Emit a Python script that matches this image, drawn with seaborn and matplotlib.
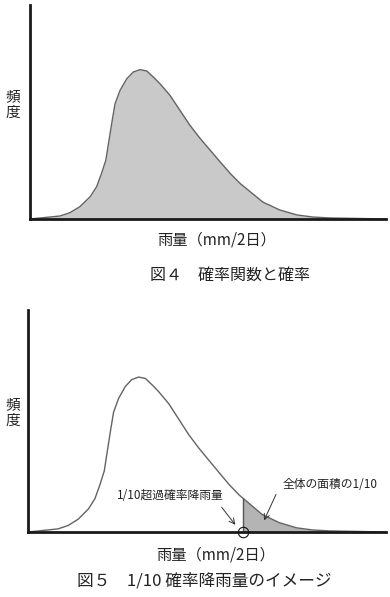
import numpy as np
import pandas as pd
import matplotlib
matplotlib.use("Agg")
import matplotlib.pyplot as plt
import seaborn as sns

# ---- data (x: rainfall 0-100, y: relative frequency, peak = 100)
rain = [0, 4.2, 8.4, 11.2, 14.0, 16.9, 18.7, 20.1, 21.3, 22.2, 23.1, 23.9, 25.3,
        27.2, 29.0, 30.9, 32.8, 35.1, 36.5, 39.3, 42.1, 44.9, 47.8, 50.6, 53.4,
        56.2, 59.0, 61.2, 65.4, 70.2, 75.0, 79.5, 84.3, 93.5, 100]
freq = [0, 1.0, 2.0, 4.2, 8.2, 14.9, 21.5, 30.5, 39.3, 52.7, 66.0, 77.1, 86.0,
        93.8, 98.2, 99.8, 98.9, 93.8, 90.4, 82.7, 72.7, 62.7, 53.8, 46.0, 38.2,
        30.5, 23.8, 19.5, 11.3, 6.0, 2.7, 1.3, 0.7, 0.3, 0]
threshold = 60.0  # 1/10 exceedance rainfall

ylabel = "頻\n度"
xlabel = "雨量（mm/2日）"
caption4 = "図４　確率関数と確率"
caption5 = "図５　1/10 確率降雨量のイメージ"
label_threshold = "1/10超過確率降雨量"
label_area = "全体の面積の1/10"

df = pd.DataFrame({"rain": rain, "freq": freq})

sns.set_style("white")
plt.rcParams["font.family"] = ["Noto Sans CJK JP", "DejaVu Sans"]

W, H = 390, 597
fig = plt.figure(figsize=(W / 100, H / 100), dpi=100)

def px_axes(left, top, right, bottom):
    return fig.add_axes([left / W, 1 - bottom / H, (right - left) / W, (bottom - top) / H])

ax1 = px_axes(30, 5, 386, 219)
ax2 = px_axes(28, 310, 386, 532)

line_col = "#636363"
fill_col = "#c9c9c9"
txt_col = "#222222"
YMAX = 143

for ax in (ax1, ax2):
    sns.lineplot(data=df, x="rain", y="freq", ax=ax, color=line_col, linewidth=1.0,
                 estimator=None, sort=False)
    ax.set_xlim(0, 100)
    ax.set_ylim(0, YMAX)
    ax.set_xticks([])
    ax.set_yticks([])
    ax.set_xlabel("")
    ax.set_ylabel("")
    for s in ("top", "right"):
        ax.spines[s].set_visible(False)
    for s in ("left", "bottom"):
        ax.spines[s].set_color("#1a1a1a")
        ax.spines[s].set_linewidth(2.0)
        ax.spines[s].set_zorder(5)

# figure 4: whole area shaded
ax1.fill_between(rain, freq, 0, color=fill_col, linewidth=0, zorder=0)

# figure 5: tail beyond threshold shaded
xr = np.array(rain, dtype=float)
yr = np.array(freq, dtype=float)
yth = np.interp(threshold, xr, yr)
mask = xr > threshold
tx = np.concatenate([[threshold], xr[mask]])
ty = np.concatenate([[yth], yr[mask]])
ax2.fill_between(tx, ty, 0, color="#b4b4b4", linewidth=0, zorder=0)
ax2.vlines(threshold, 0, yth, color="#555555", linewidth=1.0)
ax2.plot([threshold], [0], marker="o", ms=7.5, mfc="none", mec="#111111", mew=0.8,
         clip_on=False, zorder=6)

ax2.text(39.7, 23.8, label_threshold, fontsize=8.5, color=txt_col, ha="center", va="center")
ax2.annotate("", xy=(58.4, 3.2), xytext=(53.6, 17.4),
             arrowprops=dict(arrowstyle="->", color="#333333", lw=0.7))
ax2.text(84.4, 30.3, label_area, fontsize=8.5, color=txt_col, ha="center", va="center")
ax2.annotate("", xy=(65.6, 5.8), xytext=(69.6, 25.8),
             arrowprops=dict(arrowstyle="->", color="#333333", lw=0.7))

# labels
def ftext(x, y, s, size, **kw):
    fig.text(x / W, 1 - y / H, s, fontsize=size, color=txt_col, ha="center", va="center", **kw)

ftext(13, 105, ylabel, 10.5, linespacing=1.15)
ftext(13, 413, ylabel, 10.5, linespacing=1.15)
ftext(217, 240, xlabel, 11)
ftext(216, 555, xlabel, 11)
ftext(230, 275, caption4, 11.5)
ftext(204, 581, caption5, 12)

fig.savefig("out.png", dpi=100)
